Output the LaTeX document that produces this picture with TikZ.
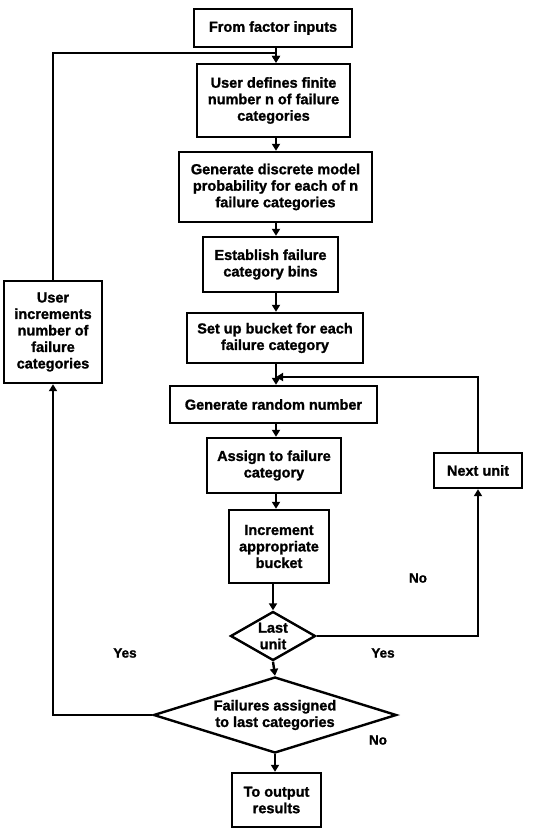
\documentclass[tikz,border=0pt]{standalone}
\usepackage{fontspec}
\setmainfont{Liberation Sans}[BoldFeatures={FakeBold=1.3}]
\usetikzlibrary{arrows.meta,shapes.geometric}
\begin{document}
\begin{tikzpicture}[x=1pt,y=1pt,
  every node/.style={font=\bfseries\fontsize{14.5}{16.5}\selectfont, align=center},
  box/.style={draw, line width=2.4pt, rectangle, inner sep=1pt},
  dia/.style={draw, line width=2.4pt, diamond, inner sep=0pt},
  lbl/.style={font=\bfseries\fontsize{13.5}{16}\selectfont},
  conn/.style={line width=2.4pt},
  arr/.style={conn, -{Triangle[length=7pt,width=8pt]}}]
\useasboundingbox (0,0) rectangle (540,-828);
\node[box, minimum width=158pt, minimum height=38pt] (b1) at (273,-28) {From factor inputs};
\node[box, minimum width=153pt, minimum height=73pt] (b2) at (273.5,-100.5) {User defines finite\\number n of failure\\categories};
\node[box, minimum width=193pt, minimum height=70pt] (b3) at (275.5,-187) {Generate discrete model\\probability for each of n\\failure categories};
\node[box, minimum width=135pt, minimum height=55pt] (b4) at (270.5,-264.5) {Establish failure\\category bins};
\node[box, minimum width=176pt, minimum height=50pt] (b5) at (275,-338) {Set up bucket for each\\failure category};
\node[box, minimum width=207pt, minimum height=37pt] (b6) at (273.5,-404.5) {Generate random number};
\node[box, minimum width=134pt, minimum height=55pt] (b7) at (274,-465.5) {Assign to failure\\category};
\node[box, minimum width=100pt, minimum height=73pt] (b8) at (279,-546.5) {Increment\\appropriate\\bucket};
\node[dia, minimum width=85pt, minimum height=49pt] (d1) at (273,-636) {};
\node (d1t) at (d1.center) {Last\\unit};
\node[dia, minimum width=243pt, minimum height=76pt] (d2) at (275,-715) {};
\node (d2t) at (d2.center) {Failures assigned\\to last categories};
\node[box, minimum width=89pt, minimum height=54pt] (b11) at (276.5,-800) {To output\\results};
\node[box, minimum width=98pt, minimum height=102pt] (b12) at (53,-332) {User\\increments\\number of\\failure\\categories};
\node[box, minimum width=88pt, minimum height=35pt] (b13) at (478,-470.5) {Next unit};
% labels
\node[lbl] (lno1) at (418,-578) {No};
\node[lbl] (lyes1) at (125,-653) {Yes};
\node[lbl] (lyes2) at (383,-653) {Yes};
\node[lbl] (lno2) at (378,-740) {No};
% main chain
\coordinate (cx) at (276,0);
\draw[arr] (b1.south -| cx) -- (b2.north -| cx);
\draw[arr] (b2.south -| cx) -- (b3.north -| cx);
\draw[arr] (b3.south -| cx) -- (b4.north -| cx);
\draw[arr] (b4.south -| cx) -- (b5.north -| cx);
\draw[arr] (b5.south -| cx) -- (b6.north -| cx);
\draw[arr] (b6.south -| cx) -- (b7.north -| cx);
\draw[arr] (b7.south -| cx) -- (b8.north -| cx);
\draw[arr] (b8.south -| d1.north) -- (d1.north);
\draw[arr] (d1.south) -- (d2.north);
\draw[arr] (d2.south) -- (b11.north -| d2.south);
% next unit loop
\coordinate (jn) at (276,-377);
\draw[arr] (d1.east) -| (b13.south);
\draw[arr] (b13.north) |- (jn);
% left loop
\coordinate (top) at (276,-53);
\draw[arr] (d2.west) -| (b12.south);
\draw[conn] (b12.north) |- (top);
\draw[arr] (top) -- (b2.north -| top);
\end{tikzpicture}
\end{document}
